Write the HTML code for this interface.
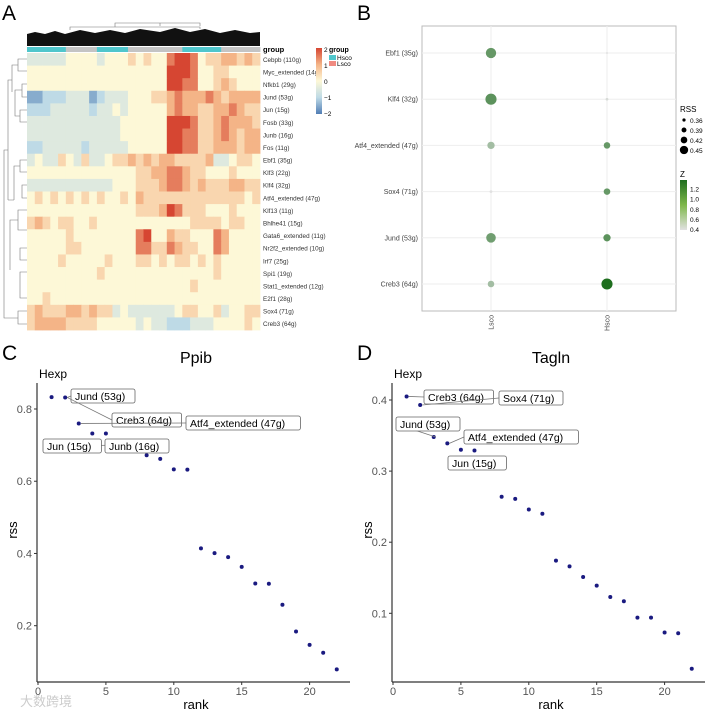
<!DOCTYPE html>
<html><head><meta charset="utf-8"><style>
body{margin:0;background:#fff;}
svg{display:block;font-family:"Liberation Sans","Noto Sans CJK SC",sans-serif;}
</style></head><body>
<svg id="s" width="709" height="711" viewBox="0 0 709 711">
<text x="2" y="20" font-size="21">A</text>
<text x="357" y="20" font-size="21">B</text>
<text x="2" y="360" font-size="21">C</text>
<text x="357" y="360" font-size="21">D</text>
<g id="A"></g>
<g id="B"></g>
<g id="C"></g>
<g id="D"></g>
<text x="20" y="706" font-size="13" fill="#ccc">大数跨境</text>
</svg>
<script>
// ---------- Panel A data ----------
const hmRows = ["Cebpb (110g)","Myc_extended (14g)","Nfkb1 (29g)","Jund (53g)","Jun (15g)","Fosb (33g)","Junb (16g)","Fos (11g)","Ebf1 (35g)","Klf3 (22g)","Klf4 (32g)","Atf4_extended (47g)","Klf13 (11g)","Bhlhe41 (15g)","Gata6_extended (11g)","Nr2f2_extended (10g)","Irf7 (25g)","Spi1 (19g)","Stat1_extended (12g)","E2f1 (28g)","Sox4 (71g)","Creb3 (64g)"];
// values encoded digit d -> (d-4)/2 (range -2..2), 30 column bins
const hmValues = [
"333334444344454544788745566565",
"444444444444444444888744554444",
"444444444444444444887744565444",
"112223331233344455676667656666",
"222333332334344444676655667655",
"333333333333444444888755676665",
"333333333333444444887755676566",
"223333323333344444887755666566",
"343354353345565656655556334554",
"444444444444445566776554445444",
"333333333334445556776565556655",
"454545454544546555555555555545",
"444444444444445556875554445444",
"565455445444444444444555545544",
"444445444444447844655444764444",
"444445544444447755765544764444",
"444454444454445545455454544444",
"444444444544444444444444544444",
"444444444444444444444544444444",
"445444444444444444444444444444",
"565556656553433333345544534455",
"566665555444443433222333444454"];
const groupBins = ["H","H","H","H","H","L","L","L","L","H","H","H","H","L","L","L","L","L","L","L","H","H","H","H","H","L","L","L","L","L"];

// ---------- Panel B data ----------
const dotRegulons = ["Ebf1 (35g)","Klf4 (32g)","Atf4_extended (47g)","Sox4 (71g)","Jund (53g)","Creb3 (64g)"];
const dotGroups = ["Lsco","Hsco"];
const rssLsco = [0.44,0.45,0.40,0.34,0.43,0.39];
const rssHsco = [0.33,0.34,0.39,0.39,0.40,0.45];
const zLsco = [1.0,1.05,0.7,0.4,0.95,0.7];
const zHsco = [0.4,0.45,1.0,1.0,1.05,1.35];
const rssLegend = [0.36,0.39,0.42,0.45];
const zTicks = [0.4,0.6,0.8,1.0,1.2];

// ---------- Panel C/D data ----------
const ranks = [1,2,3,4,5,6,7,8,9,10,11,12,13,14,15,16,17,18,19,20,21,22];
const ppibRss = [0.833,0.832,0.76,0.732,0.732,0.70,0.69,0.672,0.662,0.633,0.632,0.414,0.401,0.39,0.363,0.317,0.316,0.258,0.184,0.147,0.125,0.079];
const taglnRss = [0.405,0.393,0.348,0.339,0.330,0.329,0.305,0.264,0.261,0.246,0.240,0.174,0.166,0.151,0.139,0.123,0.117,0.094,0.094,0.073,0.072,0.022];
const ppibTicks = [0.2,0.4,0.6,0.8];
const taglnTicks = [0.1,0.2,0.3,0.4];
const rankTicks = [0,5,10,15,20];

const NS="http://www.w3.org/2000/svg";
function mk(p,tag,at,txt){const e=document.createElementNS(NS,tag);for(const k in at)e.setAttribute(k,at[k]);if(txt!==undefined)e.textContent=txt;p.appendChild(e);return e;}

// ---------- Panel A ----------
(function(){
const g=document.getElementById('A');
const x0=27,x1=260,y0=53,y1=330;
const nC=hmValues[0].length,cw=(x1-x0)/nC,rh=(y1-y0)/hmRows.length;
function col(v){
 const stops=[[-2,[80,125,180]],[-1,[190,218,230]],[0,[253,248,215]],[1,[244,180,135]],[2,[214,70,50]]];
 for(let i=0;i<4;i++){const a=stops[i],b=stops[i+1];if(v<=b[0]){const t=(v-a[0])/(b[0]-a[0]);return 'rgb('+a[1].map((c,j)=>Math.round(c+(b[1][j]-c)*t)).join(',')+')';}}
 return 'rgb(214,70,50)';}
hmValues.forEach((row,r)=>{
 for(let c=0;c<nC;c++){const v=(+row[c]-4)/2;
  const e=mk(g,'rect',{x:x0+c*cw,y:y0+r*rh,width:cw+0.4,height:rh+0.4,fill:col(v)});
  
  }
 const t=mk(g,'text',{x:x1+3,y:y0+r*rh+rh/2+2.5,'font-size':6.3,fill:'#333'},hmRows[r]);
 
 
});
groupBins.forEach((b,i)=>{const e=mk(g,'rect',{x:x0+i*cw,y:47,width:cw+0.4,height:5,fill:b==='H'?'#4fc6cc':'#c4c4c4'});
 
 });
const t=mk(g,'text',{x:x1+3,y:52,'font-size':7.5,'font-weight':'bold'},'group');


const d=mk(g,'path',{d:'M27,46 L27,34 L35,32 L45,34 L55,31 L65,34 L80,30 L95,33 L110,30 L125,33 L140,29 L160,32 L175,28 L190,32 L205,29 L220,33 L235,30 L250,33 L260,32 L260,46 Z',fill:'#111'});


mk(g,'path',{d:'M70,30 V27 H200 V29 M115,27 V23 H200 V26 M160,23 V26',stroke:'#777',fill:'none','stroke-width':0.6});
const rd=mk(g,'path',{d:'M27,59 H18 V71 H27 M18,65 H12 V92 M27,84 H22 V97 H27 M22,90 H15 V113 M27,110 H20 V122 H27 M20,116 H15 V110 M12,80 H8 V200 M27,160 H20 V172 H27 M20,166 H14 V200 M27,185 H22 V198 H27 M27,210 H18 V230 H27 M27,248 H20 V260 H27 M27,272 H20 V298 H27 M18,220 H10 V270 M14,200 H8 M8,150 H4 V300 M27,311 H18 V324 H27 M18,318 H4 V300',stroke:'#777',fill:'none','stroke-width':0.6});


const lg=document.createElementNS(NS,'linearGradient');lg.setAttribute('id','hg');lg.setAttribute('x1','0');lg.setAttribute('y1','0');lg.setAttribute('x2','0');lg.setAttribute('y2','1');
[[0,'#d64632'],[0.25,'#f4b487'],[0.5,'#fdf8d7'],[0.75,'#bedae6'],[1,'#507db4']].forEach(s=>mk(lg,'stop',{offset:s[0],'stop-color':s[1]}));
g.appendChild(lg);
const lb=mk(g,'rect',{x:316,y:48,width:6,height:66,fill:'url(#hg)'});


['2','1','0','\u22121','\u22122'].forEach((s,i)=>mk(g,'text',{x:324,y:52+i*16,'font-size':6.5},s));
mk(g,'text',{x:329,y:52,'font-size':7,'font-weight':'bold'},'group');
mk(g,'rect',{x:329,y:55,width:7,height:5,fill:'#4fc6cc'});mk(g,'text',{x:337,y:60,'font-size':6.5},'Hsco');
mk(g,'rect',{x:329,y:61,width:7,height:5,fill:'#f08a80'});mk(g,'text',{x:337,y:66,'font-size':6.5},'Lsco');
})();

// ---------- Panel B ----------
(function(){
const g=document.getElementById('B');
const px0=422,px1=676,py0=26,py1=311;
const yOf=i=>53+i*46.2, xOf=j=>[491,607][j];
const rOf=r=>1+(r-0.33)*38;
function zc(z){const t=Math.max(0,Math.min(1,(z-0.4)/0.95));const a=[225,225,225],b=[30,110,30];return 'rgb('+a.map((c,k)=>Math.round(c+(b[k]-c)*t)).join(',')+')';}
mk(g,'rect',{x:px0,y:py0,width:px1-px0,height:py1-py0,fill:'#fff',stroke:'#bbb'});
dotRegulons.forEach((n,i)=>{mk(g,'line',{x1:px0,x2:px1,y1:yOf(i),y2:yOf(i),stroke:'#eee'});
 const t=mk(g,'text',{x:px0-4,y:yOf(i)+2.5,'font-size':7,'text-anchor':'end',fill:'#444'},n);
 
 });
dotGroups.forEach((n,j)=>{mk(g,'line',{x1:xOf(j),x2:xOf(j),y1:py0,y2:py1,stroke:'#eee'});
 const t=mk(g,'text',{x:0,y:0,'font-size':7,fill:'#444','text-anchor':'end',transform:`translate(${xOf(j)+2.5},${py1+4}) rotate(-90)`},n);
 
 });
const rs=[rssLsco,rssHsco],zs=[zLsco,zHsco];
for(let j=0;j<2;j++)for(let i=0;i<dotRegulons.length;i++){
 const c=mk(g,'circle',{cx:xOf(j),cy:yOf(i),r:Math.max(0.8,rOf(rs[j][i])),fill:zc(zs[j][i])});
 
 }
mk(g,'text',{x:680,y:112,'font-size':8},'RSS');
rssLegend.forEach((v,i)=>{const c=mk(g,'circle',{cx:684,cy:120+i*10,r:rOf(v)*0.75,fill:'#000'});
 
 
 mk(g,'text',{x:690,y:123+i*10,'font-size':6.5},v.toFixed(2));});
mk(g,'text',{x:680,y:177,'font-size':8},'Z');
const zg=document.createElementNS(NS,'linearGradient');zg.setAttribute('id','zg');zg.setAttribute('x1','0');zg.setAttribute('y1','0');zg.setAttribute('x2','0');zg.setAttribute('y2','1');
mk(zg,'stop',{offset:0,'stop-color':'#1e6e1e'});mk(zg,'stop',{offset:0.5,'stop-color':'#7fb84a'});mk(zg,'stop',{offset:1,'stop-color':'#e1e1e1'});g.appendChild(zg);
const zb=mk(g,'rect',{x:680,y:180,width:7,height:50,fill:'url(#zg)'});


zTicks.forEach(v=>mk(g,'text',{x:690,y:230-(v-0.4)/0.95*48+2,'font-size':6.5},v.toFixed(1)));
})();

// ---------- Panels C/D ----------
function rankPanel(gid,ox,title,vals,ticks,y0v,y0p,y1v,y1p,labels){
const g=document.getElementById(gid);
const x0=ox+38,xr=13.58;
const X=r=>x0+r*xr, Y=v=>y0p+(v-y0v)*(y1p-y0p)/(y1v-y0v);
mk(g,'text',{x:ox+196,y:363,'font-size':16,'text-anchor':'middle'},title);
mk(g,'text',{x:ox+39,y:378,'font-size':12},'Hexp');
mk(g,'line',{x1:ox+37,x2:ox+37,y1:383,y2:682,stroke:'#333','stroke-width':1.2});
mk(g,'line',{x1:ox+37,x2:ox+350,y1:682,y2:682,stroke:'#333','stroke-width':1.2});
ticks.forEach(v=>{mk(g,'line',{x1:ox+34,x2:ox+37,y1:Y(v),y2:Y(v),stroke:'#333'});
 const t=mk(g,'text',{x:ox+32,y:Y(v)+4,'font-size':11,fill:'#555','text-anchor':'end'},v.toFixed(1));
 
 });
rankTicks.forEach(v=>{mk(g,'line',{x1:X(v),x2:X(v),y1:682,y2:685,stroke:'#333'});
 const t=mk(g,'text',{x:X(v),y:695,'font-size':11,fill:'#555','text-anchor':'middle'},v);
 
 });
mk(g,'text',{x:ox+196,y:709,'font-size':13,'text-anchor':'middle'},'rank');
mk(g,'text',{x:0,y:0,'font-size':13,'text-anchor':'middle',transform:`translate(${ox+17},530) rotate(-90)`},'rss');
ranks.forEach((r,i)=>{const c=mk(g,'circle',{cx:X(r),cy:Y(vals[i]),r:2,fill:'#1a1a80'});
 
 });
labels.forEach(L=>{
 const px=X(ranks[L.i]),py=Y(vals[L.i]);
 mk(g,'line',{x1:px+2,y1:py,x2:L.x,y2:L.y+7,stroke:'#777','stroke-width':0.8});
 const w=L.t.length*5.6+8;
 const b=mk(g,'rect',{x:L.x,y:L.y,width:w,height:14,rx:2,fill:'#fff',stroke:'#666','stroke-width':0.8});
 
 
 mk(g,'text',{x:L.x+4,y:L.y+11,'font-size':10.5},L.t);
});
}
rankPanel('C',0,'Ppib',ppibRss,ppibTicks,0.8,409,0.2,625.7,[
 {i:1,t:'Jund (53g)',x:71,y:389},{i:1,t:'Creb3 (64g)',x:112,y:413},{i:2,t:'Atf4_extended (47g)',x:186,y:416},
 {i:5,t:'Jun (15g)',x:43,y:439},{i:6,t:'Junb (16g)',x:105,y:439}]);
rankPanel('D',355,'Tagln',taglnRss,taglnTicks,0.4,400,0.1,613.3,[
 {i:0,t:'Creb3 (64g)',x:424,y:390},{i:1,t:'Sox4 (71g)',x:499,y:391},{i:2,t:'Jund (53g)',x:396,y:417},
 {i:3,t:'Atf4_extended (47g)',x:464,y:430},{i:6,t:'Jun (15g)',x:448,y:456}]);
</script>
</body></html>
